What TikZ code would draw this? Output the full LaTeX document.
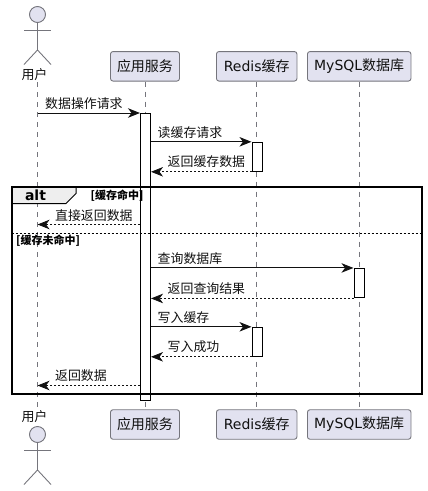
\documentclass[tikz,border=0pt]{standalone}
\usepackage{fontspec}
\setmainfont{DejaVu Sans}
\newfontfamily\cjk{Noto Sans CJK SC}
\usetikzlibrary{arrows.meta}
\definecolor{partfill}{HTML}{E2E2F0}
\definecolor{partline}{HTML}{75757C}
\definecolor{tabfill}{HTML}{EEEEEE}
\definecolor{ink}{HTML}{111111}
\tikzset{
  x=1pt,y=-1pt,
  part/.style={draw=partline,fill=partfill,rounded corners=2.5pt,line width=.9pt,minimum height=29.5pt,inner sep=0pt,text=ink,font=\fontsize{14}{16}\selectfont},
  lifeline/.style={draw=partline,line width=.8pt,dash pattern=on 5pt off 5pt},
  actorline/.style={draw=partline,line width=.9pt},
  actorhead/.style={draw=partline,fill=partfill,line width=.9pt,circle,minimum size=16pt,inner sep=0pt},
  activation/.style={draw=black,fill=white,line width=1pt,minimum width=10pt,inner sep=0pt},
  msg/.style={draw=ink,line width=1pt,-{Stealth[length=12pt,width=9.5pt,inset=3.5pt]}},
  ret/.style={msg,dash pattern=on 2pt off 2pt,line width=.8pt},
  lab/.style={anchor=west,inner sep=0pt,text=ink,font=\fontsize{12.9}{15}\selectfont\cjk},
  guard/.style={anchor=west,inner sep=0pt,text=black,font=\fontsize{11}{12}\selectfont\bfseries\cjk},
}
\begin{document}
\begin{tikzpicture}
\useasboundingbox (0,0) rectangle (428,491);
% participants
\node[part,minimum width=69pt] (appT) at (145,66.3) {\cjk 应用服务};
\node[part,minimum width=80.5pt] (redisT) at (256.7,66.3) {Redis{\cjk 缓存}};
\node[part,minimum width=103.5pt] (dbT) at (359.2,66.3) {MySQL{\cjk 数据库}};
\node[part,minimum width=69pt] (appB) at (145,424.5) {\cjk 应用服务};
\node[part,minimum width=80.5pt] (redisB) at (256.7,424.5) {Redis{\cjk 缓存}};
\node[part,minimum width=103.5pt] (dbB) at (359.2,424.5) {MySQL{\cjk 数据库}};
% actors
\node[anchor=center,inner sep=0pt,text=ink,font=\fontsize{13}{15}\selectfont\cjk] (userT) at (34.5,74.5) {用户};
\node[anchor=center,inner sep=0pt,text=ink,font=\fontsize{13}{15}\selectfont\cjk] (userB) at (34.5,416.5) {用户};
\node[actorhead] (headT) at (37.5,14.5) {};
\node[actorhead] (headB) at (37.5,434.5) {};
\draw[actorline] (headT.south) -- (37.5,50) coordinate (hipT);
\draw[actorline] (24,30.5) -- (51,30.5);
\draw[actorline] (24,64.5) -- (hipT) -- (51,64.5);
\draw[actorline] (headB.south) -- (37.5,470) coordinate (hipB);
\draw[actorline] (24,450.5) -- (51,450.5);
\draw[actorline] (24,484.5) -- (hipB) -- (51,484.5);
% lifelines
\draw[lifeline] (37.5,82) -- (37.5,408);
\draw[lifeline] (appT.south) -- (appB.north);
\draw[lifeline] (redisT.south) -- (redisB.north);
\draw[lifeline] (dbT.south) -- (dbB.north);
% activations
\node[activation,minimum height=287pt] (aApp) at (145.5,256.5) {};
\node[activation,minimum height=29pt] (aRedisOne) at (257,156.8) {};
\node[activation,minimum height=29.5pt] (aDb) at (359,283.2) {};
\node[activation,minimum height=29pt] (aRedisTwo) at (257,341.8) {};
% free ends on the user lifeline
\coordinate (uOne) at (37.5,113);
\coordinate (uTwo) at (37.5,224.5);
\coordinate (uThree) at (37.5,385.5);
% messages
\draw[msg] (uOne) -- (uOne -| aApp.west);
\draw[msg] (aApp.east |- aRedisOne.north) -- (aRedisOne.north west);
\draw[ret] (aRedisOne.south west) -- (aApp.east |- aRedisOne.south);
\draw[ret] (aApp.west |- uTwo) -- (uTwo);
\draw[msg] (aApp.east |- aDb.north) -- (aDb.north west);
\draw[ret] (aDb.south west) -- (aApp.east |- aDb.south);
\draw[msg] (aApp.east |- aRedisTwo.north) -- (aRedisTwo.north west);
\draw[ret] (aRedisTwo.south west) -- (aApp.east |- aRedisTwo.south);
\draw[ret] (aApp.west |- uThree) -- (uThree);
% labels
\node[lab] (l1) at (45,103.5) {数据操作请求};
\node[lab] (l2) at (157.5,132.5) {读缓存请求};
\node[lab] (l3) at (167.5,161.5) {返回缓存数据};
\node[lab] (l4) at (55,215.5) {直接返回数据};
\node[lab] (l5) at (157.5,259) {查询数据库};
\node[lab] (l6) at (167.5,288.5) {返回查询结果};
\node[lab] (l7) at (157.5,317.5) {写入缓存};
\node[lab] (l8) at (167.5,346.5) {写入成功};
\node[lab] (l9) at (55,375.5) {返回数据};
% alt frame
\path[fill=tabfill,draw=black,line width=1pt] (11.5,186.5) -- (76,186.5) -- (76,193.5) -- (66,203.5) -- (11.5,203.5) -- cycle;
\node[inner sep=0pt,text=black,font=\fontsize{14}{16}\selectfont\bfseries] (alt) at (35.5,195) {alt};
\node[guard] (g1) at (90.5,195.5) {[缓存命中]};
\node[guard] (g2) at (16,241) {[缓存未命中]};
\draw[black,line width=2pt] (11.5,186.5) rectangle (422,393.5);
\draw[black,line width=.8pt,dash pattern=on 2pt off 2pt] (11.5,233.5) -- (422,233.5);
\end{tikzpicture}
\end{document}
